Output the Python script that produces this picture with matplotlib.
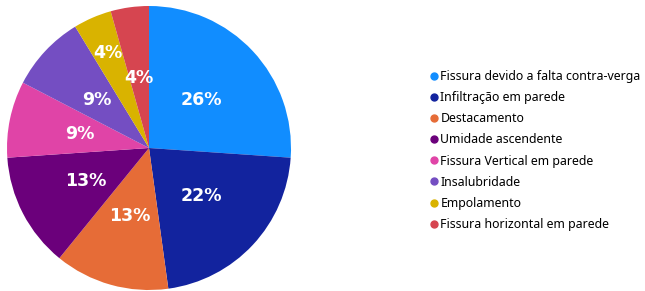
import matplotlib
matplotlib.use("Agg")
import matplotlib.pyplot as plt
from matplotlib.lines import Line2D
import numpy as np

# Occurrences per pathology (23 cases total)
labels = [
    "Fissura devido a falta contra-verga",
    "Infiltração em parede",
    "Destacamento",
    "Umidade ascendente",
    "Fissura Vertical em parede",
    "Insalubridade",
    "Empolamento",
    "Fissura horizontal em parede",
]
counts = [6, 5, 3, 3, 2, 2, 1, 1]
colors = ["#118DFF", "#12239E", "#E66C37", "#6B007B",
          "#E044A7", "#744EC2", "#D9B300", "#D64550"]

fig = plt.figure(figsize=(6.45, 2.91), dpi=100)
# pie centre at (149, 148) px from top-left, radius 142 px
ax = fig.add_axes([7 / 645, 1 / 291, 284 / 645, 284 / 291])

wedges, texts, autotexts = ax.pie(
    counts, colors=colors, startangle=90, counterclock=False,
    autopct=lambda p: f"{p:.0f}%", pctdistance=0.5,
    wedgeprops=dict(linewidth=0),
    textprops=dict(color="white", fontweight="bold", fontsize=12.5,
                   family="DejaVu Sans"),
)
ax.set_xlim(-1, 1)
ax.set_ylim(-1, 1)
ax.set_aspect("equal")
ax.axis("off")

# the small yellow slice has its label pushed further out
w = wedges[6]
mid = np.deg2rad((w.theta1 + w.theta2) / 2)
autotexts[6].set_position((0.73 * np.cos(mid), 0.73 * np.sin(mid)))

handles = [Line2D([], [], marker="o", linestyle="", color=c, markersize=5)
           for c in colors]
fig.legend(handles, labels, loc="upper left", bbox_to_anchor=(423 / 645, 1 - 65 / 291),
           frameon=False, prop=dict(family="Noto Sans", size=8.9),
           handletextpad=0.0, labelspacing=0.66, handlelength=1.0,
           borderaxespad=0)

fig.savefig("out.png", dpi=100)
